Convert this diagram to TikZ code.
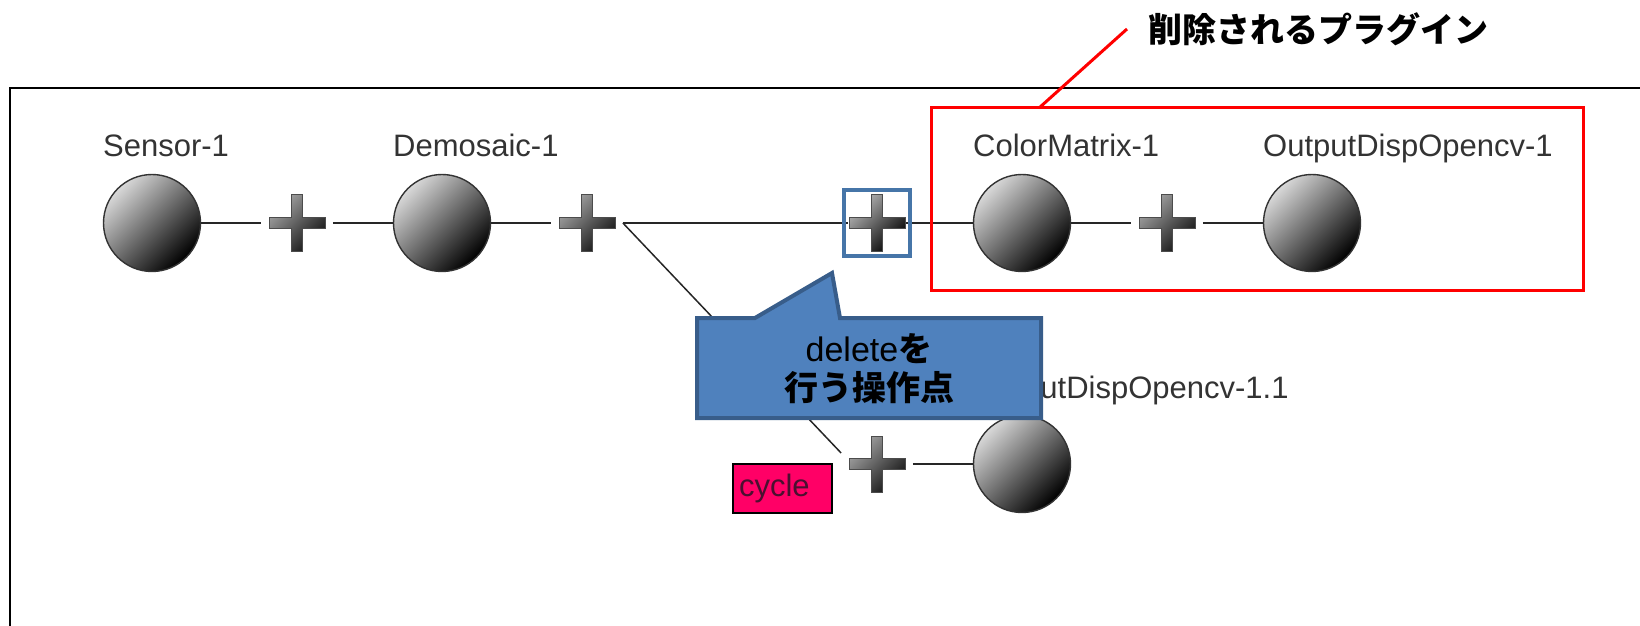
\documentclass[tikz,border=0pt]{standalone}
\usepackage{fontspec}
\setmainfont{Liberation Sans}
\newfontfamily\jpfont{Noto Sans CJK JP}
\usetikzlibrary{positioning, fit}

\definecolor{noteblue}{HTML}{4F81BD}
\definecolor{noteedge}{HTML}{385D8A}
\definecolor{selblue}{HTML}{4675A8}
\definecolor{cyclered}{HTML}{FF0066}
\definecolor{cycletext}{HTML}{4A1030}

\tikzset{
  plugin/.style={circle, draw=black!80, line width=0.7pt, minimum size=48.5pt,
                 inner sep=0pt, top color=gray!30, bottom color=black,
                 shading angle=45},
  joint/.style={rectangle, minimum size=35.5pt, inner sep=0pt,
                path picture={
                  \shadedraw[draw=black!70, line width=0.5pt, top color=gray!55,
                             bottom color=black, shading angle=45]
                    ([shift={(-14pt,2.75pt)}]path picture bounding box.center)
                    -- ++(11.25pt,0pt) -- ++(0pt,11.25pt) -- ++(5.5pt,0pt)
                    -- ++(0pt,-11.25pt) -- ++(11.25pt,0pt) -- ++(0pt,-5.5pt)
                    -- ++(-11.25pt,0pt) -- ++(0pt,-11.25pt) -- ++(-5.5pt,0pt)
                    -- ++(0pt,11.25pt) -- ++(-11.25pt,0pt) -- cycle;}},
  plabel/.style={anchor=base west, inner sep=0pt, text=black!80,
                 font=\fontsize{15.5}{18}\selectfont},
  wire/.style={draw=black!85, line width=0.75pt},
  outerframe/.style={draw=black, line width=1.2pt},
  selbox/.style={rectangle, draw=selblue, line width=2pt, inner sep=2pt},
  delbox/.style={rectangle, draw=red, line width=1.5pt, outer sep=0pt},
  redline/.style={draw=red, line width=1.5pt},
  headline/.style={inner sep=0pt, font=\jpfont\bfseries\fontsize{17}{20}\selectfont},
  callout/.style={fill=noteblue, draw=noteedge, line width=2pt, line join=miter},
  notetext/.style={align=center, inner sep=0pt,
                   font=\fontsize{17}{19.5}\selectfont},
  cyclebox/.style={rectangle, fill=cyclered, draw=black, line width=1pt,
                   minimum height=24.5pt, text width=43.5pt, inner xsep=3pt,
                   inner ysep=0pt, align=left, text=cycletext,
                   font=\fontsize{15.5}{18}\selectfont},
}

\begin{document}
\begin{tikzpicture}[x=0.5pt, y=-0.5pt, node distance=72.5pt, on grid]

  \useasboundingbox (0,0) rectangle (1640,626);
  \draw[outerframe] (1640,88) -- (10,88) -- (10,626);

  \node[plugin] (sensor) at (152,223) {};
  \node[joint, right=of sensor] (plus1) {};
  \node[plugin, right=of plus1] (demosaic) {};
  \node[joint, right=of demosaic] (plus2) {};
  \node[joint, minimum size=29pt, right=145pt of plus2] (bplus) {};
  \node[plugin, right=of bplus] (colormatrix) {};
  \node[joint, right=of colormatrix] (plus3) {};
  \node[plugin, right=of plus3] (output) {};
  \node[joint, below=120.5pt of bplus] (lplus) {};
  \node[plugin, right=of lplus] (output2) {};

  \node[plabel] (sensorLbl) at ([yshift=33pt]sensor.west) {Sensor-1};
  \node[plabel] (demosaicLbl) at ([yshift=33pt]demosaic.west) {Demosaic-1};
  \node[plabel] (colormatrixLbl) at ([yshift=33pt]colormatrix.west) {ColorMatrix-1};
  \node[plabel] (outputLbl) at ([yshift=33pt]output.west) {OutputDispOpencv-1};
  \node[plabel] (output2Lbl) at ([yshift=33pt]output2.west) {OutputDispOpencv-1.1};

  \draw[wire] (sensor) -- (plus1);
  \draw[wire] (plus1) -- (demosaic);
  \draw[wire] (demosaic) -- (plus2);
  \draw[wire] (plus2) -- (bplus);
  \draw[wire] (bplus) -- (colormatrix);
  \draw[wire] (colormatrix) -- (plus3);
  \draw[wire] (plus3) -- (output);
  \draw[wire] (plus2.east) -- ([yshift=5.5pt]lplus.west);
  \draw[wire] (lplus) -- (output2);

  \node[selbox, fit=(bplus)] (sel) {};

  \node[delbox, minimum width=326pt, minimum height=91pt, anchor=north west]
    (removed) at (931,108) {};
  \node[headline, anchor=west] (headline) at (1148,29) {削除されるプラグイン};
  \draw[redline] ([xshift=54pt]removed.north west) -- ([xshift=-10.5pt]headline.west);

  % speech bubble pointing at the selected joint
  \coordinate (tip) at (832,273);
  \filldraw[callout] (697,318) -- (755,318) -- (tip) -- (840,318) -- (1041,318)
    -- (1041,418) -- (697,418) -- cycle;
  \node[notetext] (note) at (869,369)
    {delete{\jpfont\bfseries を}\\{\jpfont\bfseries 行う操作点}};

  \node[cyclebox, anchor=north west] (cyc) at (732,463) {cycle};

\end{tikzpicture}
\end{document}
